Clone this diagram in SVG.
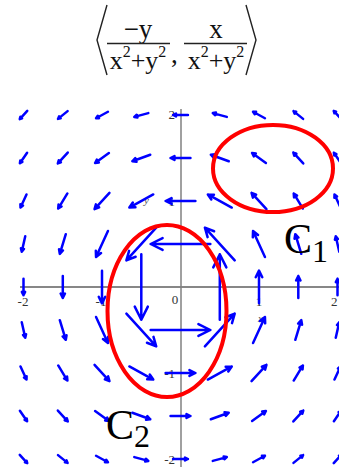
<svg xmlns="http://www.w3.org/2000/svg" xmlns:xlink="http://www.w3.org/1999/xlink" width="339" height="467" viewBox="0 0 339 467">
<style>
.f{font-family:"Liberation Serif","Times New Roman",serif;fill:#111}
.t{font-family:"Liberation Serif","Times New Roman",serif;font-size:13px;fill:#333}
.ax{font-family:"Liberation Serif","Times New Roman",serif;font-size:11px;font-style:italic;fill:#555}
.br{fill:none;stroke:#222;stroke-width:1.4}
.bar{stroke:#222;stroke-width:1.3}
.ar{fill:none;stroke:#0000ff;stroke-width:2.5;stroke-linecap:round;stroke-linejoin:round;vector-effect:non-scaling-stroke}
.cv{fill:none;stroke:#ff0000;stroke-width:4}
.cl{font-family:"Liberation Serif","Times New Roman",serif;fill:#000}
</style>
<defs>
<path id="a" class="ar" d="M-0.5 0H0.5M0.3 -0.1L0.5 0L0.3 0.1"/>
</defs>
<rect width="339" height="467" fill="#fff"/>
<g id="title">
<polyline class="br" points="107,5 97,40 107,75"/>
<polyline class="br" points="246,5 256,40 246,75"/>
<text class="f" x="138" y="38" font-size="27" text-anchor="middle">−y</text>
<line class="bar" x1="107" y1="43.5" x2="170" y2="43.5"/>
<text class="f" x="138" y="69" font-size="26" text-anchor="middle">x<tspan dy="-12" font-size="16">2</tspan><tspan dy="12">+y</tspan><tspan dy="-12" font-size="16">2</tspan></text>
<text class="f" x="171" y="63" font-size="27">,</text>
<text class="f" x="216" y="38" font-size="27" text-anchor="middle">x</text>
<line class="bar" x1="184" y1="43.5" x2="247" y2="43.5"/>
<text class="f" x="216" y="69" font-size="26" text-anchor="middle">x<tspan dy="-12" font-size="16">2</tspan><tspan dy="12">+y</tspan><tspan dy="-12" font-size="16">2</tspan></text>
</g>
<g id="axes">
<line x1="20" y1="287" x2="339" y2="287" stroke="#111" stroke-width="1.2"/>
<line x1="181" y1="109" x2="181" y2="467" stroke="#808080" stroke-width="1.5"/>
<text class="t" x="175" y="119" text-anchor="end">2</text>
<text class="t" x="175" y="206" text-anchor="end">1</text>
<text class="t" x="175" y="378" text-anchor="end">-1</text>
<text class="t" x="175" y="464" text-anchor="end">-2</text>
<text class="t" x="23" y="306" text-anchor="middle">-2</text>
<text class="t" x="101" y="306" text-anchor="middle">-1</text>
<text class="t" x="175" y="304" text-anchor="middle">0</text>
<text class="t" x="259" y="306" text-anchor="middle">1</text>
<text class="t" x="331" y="306">2</text>
<text class="ax" x="258" y="322">x</text>
<text class="ax" x="144" y="204">y</text>
</g>
<g id="field">
<use xlink:href="#a" transform="matrix(-7.5,8.2,-8.2,-7.5,23.5,115)"/>
<use xlink:href="#a" transform="matrix(-9.6,7.8,-7.8,-9.6,62.8,115)"/>
<use xlink:href="#a" transform="matrix(-11.9,6.5,-6.5,-11.9,102,115)"/>
<use xlink:href="#a" transform="matrix(-14,3.8,-3.8,-14,141.3,115)"/>
<use xlink:href="#a" transform="matrix(-14.9,0,0,-14.9,180.5,115)"/>
<use xlink:href="#a" transform="matrix(-14,-3.8,3.8,-14,219.8,115)"/>
<use xlink:href="#a" transform="matrix(-11.9,-6.5,6.5,-11.9,259,115)"/>
<use xlink:href="#a" transform="matrix(-9.6,-7.8,7.8,-9.6,298.3,115)"/>
<use xlink:href="#a" transform="matrix(-7.5,-8.2,8.2,-7.5,337.5,115)"/>

<use xlink:href="#a" transform="matrix(-7.2,10.5,-10.5,-7.2,23.5,158)"/>
<use xlink:href="#a" transform="matrix(-9.9,10.9,-10.9,-9.9,62.8,158)"/>
<use xlink:href="#a" transform="matrix(-13.8,10.1,-10.1,-13.8,102,158)"/>
<use xlink:href="#a" transform="matrix(-17.9,6.5,-6.5,-17.9,141.3,158)"/>
<use xlink:href="#a" transform="matrix(-19.9,0,0,-19.9,180.5,158)"/>
<use xlink:href="#a" transform="matrix(-17.9,-6.5,6.5,-17.9,219.8,158)"/>
<use xlink:href="#a" transform="matrix(-13.8,-10.1,10.1,-13.8,259,158)"/>
<use xlink:href="#a" transform="matrix(-9.9,-10.9,10.9,-9.9,298.3,158)"/>
<use xlink:href="#a" transform="matrix(-7.2,-10.5,10.5,-7.2,337.5,158)"/>

<use xlink:href="#a" transform="matrix(-6,13.1,-13.1,-6,23.5,201)"/>
<use xlink:href="#a" transform="matrix(-9.2,15.1,-15.1,-9.2,62.8,201)"/>
<use xlink:href="#a" transform="matrix(-14.9,16.3,-16.3,-14.9,102,201)"/>
<use xlink:href="#a" transform="matrix(-23.9,13.1,-13.1,-23.9,141.3,201)"/>
<use xlink:href="#a" transform="matrix(-29.8,0,0,-29.8,180.5,201)"/>
<use xlink:href="#a" transform="matrix(-23.9,-13.1,13.1,-23.9,219.8,201)"/>
<use xlink:href="#a" transform="matrix(-14.9,-16.3,16.3,-14.9,259,201)"/>
<use xlink:href="#a" transform="matrix(-9.2,-15.1,15.1,-9.2,298.3,201)"/>
<use xlink:href="#a" transform="matrix(-6,-13.1,13.1,-6,337.5,201)"/>

<use xlink:href="#a" transform="matrix(-3.5,15.4,-15.4,-3.5,23.5,244)"/>
<use xlink:href="#a" transform="matrix(-6,19.6,-19.6,-6,62.8,244)"/>
<use xlink:href="#a" transform="matrix(-11.9,26.1,-26.1,-11.9,102,244)"/>
<use xlink:href="#a" transform="matrix(-29.8,32.7,-32.7,-29.8,141.3,244)"/>
<use xlink:href="#a" transform="matrix(-59.7,0,0,-59.7,180.5,244)"/>
<use xlink:href="#a" transform="matrix(-29.8,-32.7,32.7,-29.8,219.8,244)"/>
<use xlink:href="#a" transform="matrix(-11.9,-26.1,26.1,-11.9,259,244)"/>
<use xlink:href="#a" transform="matrix(-6,-19.6,19.6,-6,298.3,244)"/>
<use xlink:href="#a" transform="matrix(-3.5,-15.4,15.4,-3.5,337.5,244)"/>

<use xlink:href="#a" transform="matrix(0,16.3,-16.3,0,23.5,287)"/>
<use xlink:href="#a" transform="matrix(0,21.8,-21.8,0,62.8,287)"/>
<use xlink:href="#a" transform="matrix(0,32.7,-32.7,0,102,287)"/>
<use xlink:href="#a" transform="matrix(0,65.4,-65.4,0,141.3,287)"/>
<use xlink:href="#a" transform="matrix(0,-65.4,65.4,0,219.8,287)"/>
<use xlink:href="#a" transform="matrix(0,-32.7,32.7,0,259,287)"/>
<use xlink:href="#a" transform="matrix(0,-21.8,21.8,0,298.3,287)"/>
<use xlink:href="#a" transform="matrix(0,-16.3,16.3,0,337.5,287)"/>

<use xlink:href="#a" transform="matrix(3.5,15.4,-15.4,3.5,23.5,330)"/>
<use xlink:href="#a" transform="matrix(6,19.6,-19.6,6,62.8,330)"/>
<use xlink:href="#a" transform="matrix(11.9,26.1,-26.1,11.9,102,330)"/>
<use xlink:href="#a" transform="matrix(29.8,32.7,-32.7,29.8,141.3,330)"/>
<use xlink:href="#a" transform="matrix(59.7,0,0,59.7,180.5,330)"/>
<use xlink:href="#a" transform="matrix(29.8,-32.7,32.7,29.8,219.8,330)"/>
<use xlink:href="#a" transform="matrix(11.9,-26.1,26.1,11.9,259,330)"/>
<use xlink:href="#a" transform="matrix(6,-19.6,19.6,6,298.3,330)"/>
<use xlink:href="#a" transform="matrix(3.5,-15.4,15.4,3.5,337.5,330)"/>

<use xlink:href="#a" transform="matrix(6,13.1,-13.1,6,23.5,373)"/>
<use xlink:href="#a" transform="matrix(9.2,15.1,-15.1,9.2,62.8,373)"/>
<use xlink:href="#a" transform="matrix(14.9,16.3,-16.3,14.9,102,373)"/>
<use xlink:href="#a" transform="matrix(23.9,13.1,-13.1,23.9,141.3,373)"/>
<use xlink:href="#a" transform="matrix(29.8,0,0,29.8,180.5,373)"/>
<use xlink:href="#a" transform="matrix(23.9,-13.1,13.1,23.9,219.8,373)"/>
<use xlink:href="#a" transform="matrix(14.9,-16.3,16.3,14.9,259,373)"/>
<use xlink:href="#a" transform="matrix(9.2,-15.1,15.1,9.2,298.3,373)"/>
<use xlink:href="#a" transform="matrix(6,-13.1,13.1,6,337.5,373)"/>

<use xlink:href="#a" transform="matrix(7.2,10.5,-10.5,7.2,23.5,416)"/>
<use xlink:href="#a" transform="matrix(9.9,10.9,-10.9,9.9,62.8,416)"/>
<use xlink:href="#a" transform="matrix(13.8,10.1,-10.1,13.8,102,416)"/>
<use xlink:href="#a" transform="matrix(17.9,6.5,-6.5,17.9,141.3,416)"/>
<use xlink:href="#a" transform="matrix(19.9,0,0,19.9,180.5,416)"/>
<use xlink:href="#a" transform="matrix(17.9,-6.5,6.5,17.9,219.8,416)"/>
<use xlink:href="#a" transform="matrix(13.8,-10.1,10.1,13.8,259,416)"/>
<use xlink:href="#a" transform="matrix(9.9,-10.9,10.9,9.9,298.3,416)"/>
<use xlink:href="#a" transform="matrix(7.2,-10.5,10.5,7.2,337.5,416)"/>

<use xlink:href="#a" transform="matrix(7.5,8.2,-8.2,7.5,23.5,459)"/>
<use xlink:href="#a" transform="matrix(9.6,7.8,-7.8,9.6,62.8,459)"/>
<use xlink:href="#a" transform="matrix(11.9,6.5,-6.5,11.9,102,459)"/>
<use xlink:href="#a" transform="matrix(14,3.8,-3.8,14,141.3,459)"/>
<use xlink:href="#a" transform="matrix(14.9,0,0,14.9,180.5,459)"/>
<use xlink:href="#a" transform="matrix(14,-3.8,3.8,14,219.8,459)"/>
<use xlink:href="#a" transform="matrix(11.9,-6.5,6.5,11.9,259,459)"/>
<use xlink:href="#a" transform="matrix(9.6,-7.8,7.8,9.6,298.3,459)"/>
<use xlink:href="#a" transform="matrix(7.5,-8.2,8.2,7.5,337.5,459)"/>
</g>
<g id="C1">
<ellipse class="cv" cx="273" cy="168.5" rx="60" ry="43.5"/>
<text class="cl" x="284" y="253" font-size="42">C<tspan dy="9" font-size="32">1</tspan></text>
</g>
<g id="C2">
<ellipse class="cv" cx="167" cy="311" rx="59.5" ry="86"/>
<text class="cl" x="106" y="439" font-size="42">C<tspan dy="8" font-size="32">2</tspan></text>
</g>
</svg>
